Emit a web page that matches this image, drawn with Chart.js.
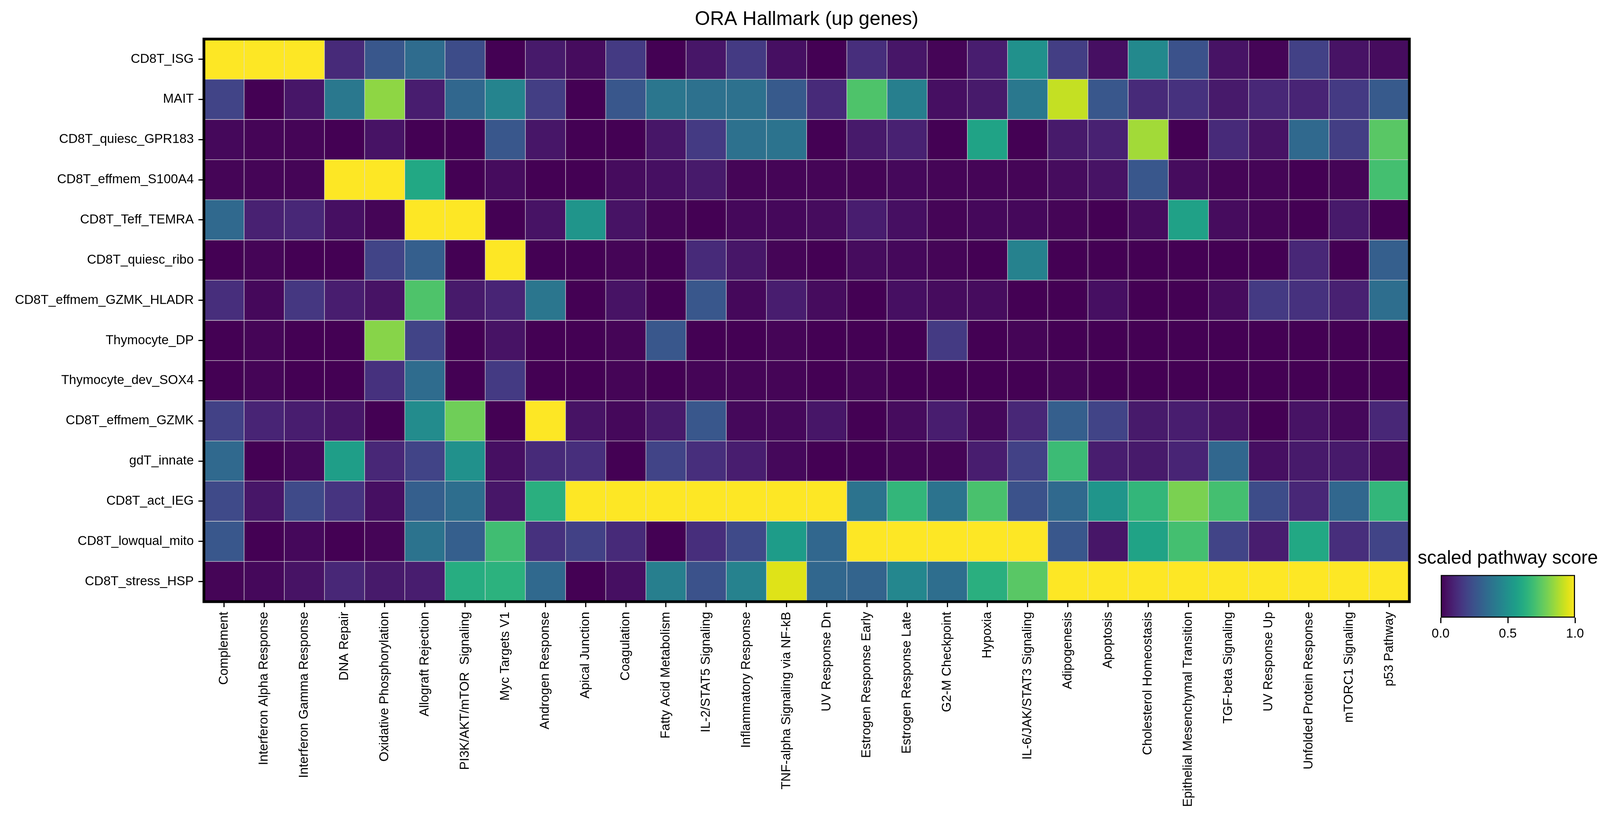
<!DOCTYPE html>
<html>
<head>
<meta charset="utf-8">
<script src="https://cdn.jsdelivr.net/npm/chart.js@4.4.1/dist/chart.umd.min.js"></script>
<style>
  html, body { margin: 0; padding: 0; background: #ffffff; }
  #wrap { position: relative; width: 4124px; height: 2104px; overflow: hidden; }
  #main { position: absolute; left: 0; top: 0; width: 4124px; height: 2104px; }
  #cbar { position: absolute; left: 3610px; top: 1380px; width: 500px; height: 320px; }
</style>
</head>
<body>
<div id="wrap">
  <div id="main"><canvas id="heat"></canvas></div>
  <div id="cbar"><canvas id="legend"></canvas></div>
</div>
<script>
// ---------------- DATA ----------------
const titleText = 'ORA Hallmark (up genes)';
const colorbarTitle = 'scaled pathway score';

const rowLabels = [
  'CD8T_ISG', 'MAIT', 'CD8T_quiesc_GPR183', 'CD8T_effmem_S100A4', 'CD8T_Teff_TEMRA',
  'CD8T_quiesc_ribo', 'CD8T_effmem_GZMK_HLADR', 'Thymocyte_DP', 'Thymocyte_dev_SOX4',
  'CD8T_effmem_GZMK', 'gdT_innate', 'CD8T_act_IEG', 'CD8T_lowqual_mito', 'CD8T_stress_HSP'
];

const pathways = [
  'Complement', 'Interferon Alpha Response', 'Interferon Gamma Response', 'DNA Repair',
  'Oxidative Phosphorylation', 'Allograft Rejection', 'PI3K/AKT/mTOR  Signaling', 'Myc Targets V1',
  'Androgen Response', 'Apical Junction', 'Coagulation', 'Fatty Acid Metabolism',
  'IL-2/STAT5 Signaling', 'Inflammatory Response', 'TNF-alpha Signaling via NF-kB', 'UV Response Dn',
  'Estrogen Response Early', 'Estrogen Response Late', 'G2-M Checkpoint', 'Hypoxia',
  'IL-6/JAK/STAT3 Signaling', 'Adipogenesis', 'Apoptosis', 'Cholesterol Homeostasis',
  'Epithelial Mesenchymal Transition', 'TGF-beta Signaling', 'UV Response Up',
  'Unfolded Protein Response', 'mTORC1 Signaling', 'p53 Pathway'
];

// scaled pathway score per cell type (one value per pathway, same order as above)
const CD8T_ISG               = [1.00,1.00,1.00,0.12,0.27,0.35,0.23,0.00,0.07,0.03,0.17,0.00,0.06,0.17,0.04, 0.00,0.13,0.06,0.01,0.08,0.50,0.18,0.04,0.47,0.25,0.05,0.01,0.19,0.05,0.03];
const MAIT                   = [0.20,0.00,0.06,0.40,0.83,0.08,0.33,0.45,0.18,0.00,0.27,0.39,0.37,0.37,0.28, 0.12,0.72,0.43,0.04,0.07,0.40,0.91,0.27,0.12,0.14,0.07,0.11,0.10,0.17,0.28];
const CD8T_quiesc_GPR183     = [0.02,0.01,0.01,0.00,0.05,0.00,0.00,0.27,0.06,0.00,0.00,0.06,0.17,0.37,0.38, 0.00,0.07,0.09,0.00,0.58,0.00,0.07,0.09,0.86,0.00,0.12,0.05,0.34,0.18,0.74];
const CD8T_effmem_S100A4     = [0.01,0.01,0.01,1.00,1.00,0.60,0.00,0.03,0.00,0.00,0.03,0.04,0.07,0.01,0.01, 0.01,0.01,0.02,0.01,0.01,0.01,0.03,0.05,0.27,0.03,0.01,0.01,0.00,0.01,0.70];
const CD8T_Teff_TEMRA        = [0.34,0.09,0.11,0.04,0.01,1.00,1.00,0.00,0.05,0.52,0.05,0.01,0.00,0.02,0.02, 0.03,0.08,0.04,0.01,0.02,0.02,0.01,0.00,0.03,0.57,0.03,0.01,0.00,0.07,0.00];
const CD8T_quiesc_ribo       = [0.00,0.01,0.00,0.00,0.20,0.30,0.00,1.00,0.00,0.00,0.01,0.00,0.12,0.06,0.01, 0.00,0.03,0.02,0.01,0.00,0.44,0.00,0.00,0.00,0.00,0.00,0.00,0.11,0.00,0.30];
const CD8T_effmem_GZMK_HLADR = [0.13,0.02,0.16,0.08,0.05,0.72,0.07,0.10,0.39,0.00,0.05,0.00,0.27,0.02,0.08, 0.03,0.00,0.04,0.03,0.03,0.00,0.00,0.04,0.00,0.00,0.03,0.17,0.14,0.09,0.36];
const Thymocyte_DP           = [0.00,0.01,0.00,0.00,0.82,0.20,0.00,0.05,0.00,0.00,0.01,0.27,0.00,0.00,0.01, 0.00,0.00,0.00,0.17,0.00,0.01,0.00,0.00,0.00,0.00,0.00,0.00,0.00,0.00,0.00];
const Thymocyte_dev_SOX4     = [0.00,0.01,0.00,0.00,0.14,0.35,0.00,0.17,0.00,0.00,0.01,0.00,0.01,0.01,0.01, 0.00,0.01,0.00,0.00,0.00,0.00,0.01,0.00,0.00,0.00,0.00,0.00,0.00,0.00,0.00];
const CD8T_effmem_GZMK       = [0.19,0.10,0.08,0.06,0.00,0.48,0.78,0.00,1.00,0.05,0.02,0.07,0.27,0.02,0.02, 0.06,0.00,0.03,0.08,0.02,0.11,0.30,0.20,0.07,0.08,0.05,0.00,0.05,0.02,0.11];
const gdT_innate             = [0.34,0.00,0.02,0.56,0.11,0.20,0.50,0.04,0.12,0.13,0.00,0.20,0.13,0.08,0.02, 0.00,0.00,0.01,0.01,0.08,0.19,0.68,0.08,0.07,0.10,0.33,0.04,0.07,0.07,0.03];
const CD8T_act_IEG           = [0.22,0.06,0.22,0.15,0.04,0.30,0.36,0.06,0.63,1.00,1.00,1.00,1.00,1.00,1.00, 1.00,0.38,0.66,0.38,0.71,0.25,0.34,0.52,0.66,0.80,0.70,0.23,0.11,0.33,0.66];
const CD8T_lowqual_mito      = [0.27,0.00,0.02,0.00,0.01,0.38,0.30,0.69,0.14,0.19,0.12,0.00,0.13,0.22,0.55, 0.33,1.00,1.00,1.00,1.00,1.00,0.27,0.06,0.58,0.70,0.20,0.08,0.60,0.13,0.20];
const CD8T_stress_HSP        = [0.01,0.02,0.05,0.11,0.07,0.08,0.62,0.64,0.34,0.00,0.04,0.43,0.25,0.44,0.95, 0.33,0.32,0.46,0.36,0.63,0.74,1.00,1.00,1.00,1.00,1.00,1.00,1.00,1.00,1.00];

const rowValues = [
  CD8T_ISG, MAIT, CD8T_quiesc_GPR183, CD8T_effmem_S100A4, CD8T_Teff_TEMRA,
  CD8T_quiesc_ribo, CD8T_effmem_GZMK_HLADR, Thymocyte_DP, Thymocyte_dev_SOX4,
  CD8T_effmem_GZMK, gdT_innate, CD8T_act_IEG, CD8T_lowqual_mito, CD8T_stress_HSP
];

const colorbarTicks = [0, 0.5, 1];

// ---------------- STYLE ----------------
const VIRIDIS = ['#440154','#471365','#482475','#463480','#414487','#3b528b','#355f8d',
  '#2f6c8e','#2a788e','#25848e','#21918c','#1e9c89','#22a884','#2fb47c','#44bf70',
  '#5ec962','#7ad151','#9bd93c','#bddf26','#dfe318','#fde725'];

function hexToRgb(h) {
  return [parseInt(h.slice(1,3),16), parseInt(h.slice(3,5),16), parseInt(h.slice(5,7),16)];
}
const VIR_RGB = VIRIDIS.map(hexToRgb);
function viridis(v) {
  const t = Math.max(0, Math.min(1, v)) * (VIR_RGB.length - 1);
  const i = Math.min(Math.floor(t), VIR_RGB.length - 2);
  const f = t - i;
  const a = VIR_RGB[i], b = VIR_RGB[i + 1];
  const c = a.map((x, k) => Math.round(x + (b[k] - x) * f));
  return `rgb(${c[0]},${c[1]},${c[2]})`;
}

const FONT = "'Liberation Sans', Arial, Helvetica, sans-serif";
Chart.defaults.font.family = FONT;
Chart.defaults.color = '#000';

const frame = {
  id: 'frame',
  afterDatasetsDraw(chart) {
    const { ctx, chartArea: a } = chart;
    ctx.save();
    ctx.lineWidth = 7;
    ctx.strokeStyle = '#000';
    ctx.strokeRect(a.left, a.top, a.right - a.left, a.bottom - a.top);
    ctx.restore();
  }
};

const tickGrid = {
  display: true, offset: false, drawOnChartArea: false, drawTicks: true,
  tickLength: 14, tickWidth: 3, tickColor: '#000'
};

// ---------------- HEATMAP ----------------
const datasets = rowValues.map((vals, r) => ({
  label: rowLabels[r],
  data: vals.map(() => [r - 0.5, r + 0.5]),
  backgroundColor: vals.map(viridis),
  borderColor: 'rgba(150,150,150,0.3)',
  borderWidth: 1,
  borderSkipped: false,
  grouped: false,
  barPercentage: 1,
  categoryPercentage: 1
}));

new Chart(document.getElementById('heat'), {
  type: 'bar',
  data: { labels: pathways, datasets },
  options: {
    responsive: true,
    maintainAspectRatio: false,
    animation: false,
    layout: { padding: { left: 0, right: 516, top: 0, bottom: 0 } },
    plugins: {
      legend: { display: false },
      tooltip: { enabled: false },
      title: {
        display: true, text: titleText, color: '#000', fullSize: false,
        font: { size: 50, weight: 'normal' },
        padding: { top: 20, bottom: 20 }
      }
    },
    scales: {
      x: {
        type: 'category', offset: true,
        grid: tickGrid,
        border: { display: false },
        ticks: { autoSkip: false, maxRotation: 90, minRotation: 90, padding: 12,
                 font: { size: 33 }, color: '#000' },
        afterFit(s) { s.height = 564; }
      },
      y: {
        type: 'linear', min: -0.5, max: 13.5, reverse: true,
        afterBuildTicks(s) { s.ticks = rowLabels.map((_, i) => ({ value: i })); },
        grid: tickGrid,
        border: { display: false },
        ticks: { autoSkip: false, padding: 12, font: { size: 33 }, color: '#000',
                 callback: (v) => rowLabels[v] },
        afterFit(s) { s.width = 522; }
      }
    }
  },
  plugins: [frame]
});

// ---------------- COLORBAR ----------------
const hiddenSide = {
  type: 'category', labels: [''],
  grid: { display: false }, border: { display: false }, ticks: { display: false }
};

new Chart(document.getElementById('legend'), {
  type: 'bar',
  data: {
    labels: [''],
    datasets: [{
      data: [[colorbarTicks[0], colorbarTicks[colorbarTicks.length - 1]]],
      backgroundColor(ctx) {
        const ch = ctx.chart, a = ch.chartArea;
        if (!a) return '#21918c';
        const g = ch.ctx.createLinearGradient(a.left, 0, a.right, 0);
        VIRIDIS.forEach((c, i) => g.addColorStop(i / (VIRIDIS.length - 1), c));
        return g;
      },
      borderColor: '#000',
      borderWidth: 3,
      borderSkipped: false,
      barPercentage: 1,
      categoryPercentage: 1
    }]
  },
  options: {
    indexAxis: 'y',
    responsive: true,
    maintainAspectRatio: false,
    animation: false,
    layout: { padding: 0 },
    plugins: {
      legend: { display: false },
      tooltip: { enabled: false },
      title: {
        display: true, text: colorbarTitle, color: '#000',
        font: { size: 48, weight: 'normal' },
        padding: { top: 21, bottom: 13 }
      }
    },
    scales: {
      y: Object.assign({}, hiddenSide, { position: 'left', afterFit(s) { s.width = 78; } }),
      yr: Object.assign({}, hiddenSide, { position: 'right', afterFit(s) { s.width = 78; } }),
      x: {
        type: 'linear', min: 0, max: 1,
        afterBuildTicks(s) { s.ticks = colorbarTicks.map(v => ({ value: v })); },
        grid: tickGrid,
        border: { display: false },
        ticks: { maxRotation: 0, padding: 8, font: { size: 33 }, color: '#000',
                 callback: (v) => Number(v).toFixed(1) },
        afterFit(s) { s.height = 119; }
      }
    }
  }
});
</script>
</body>
</html>
